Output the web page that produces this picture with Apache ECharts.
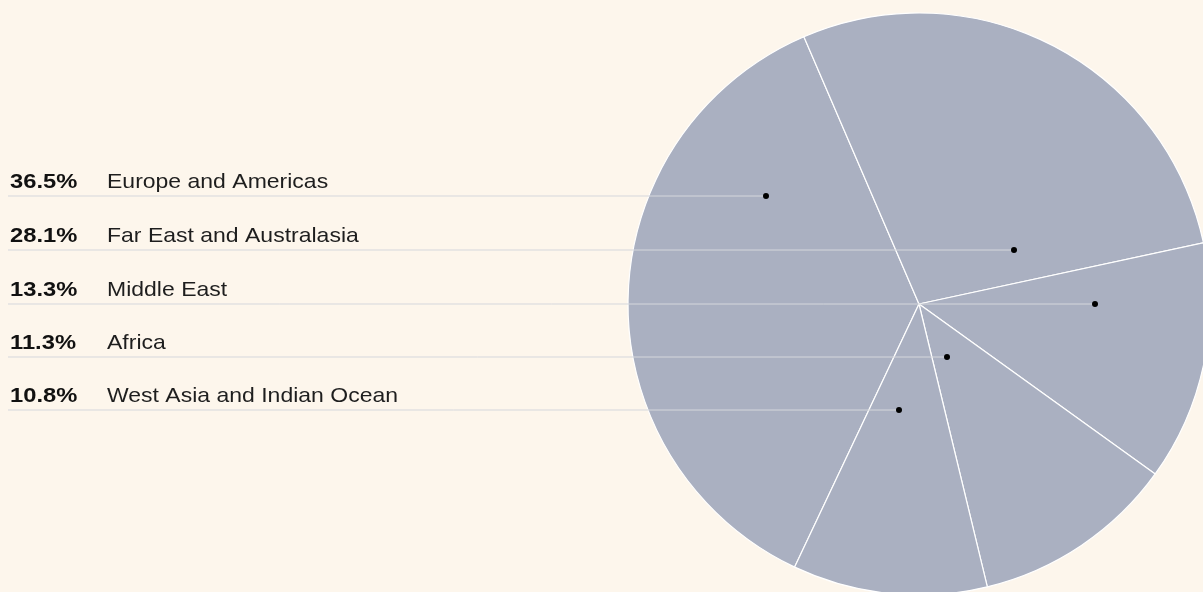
<!DOCTYPE html>
<html>
<head>
<meta charset="utf-8">
<script src="https://cdn.jsdelivr.net/npm/echarts@6/dist/echarts.min.js"></script>
<style>
  html, body { margin: 0; padding: 0; background: #fdf6ec; }
  #chart { width: 1203px; height: 592px; }
</style>
</head>
<body>
<div id="chart"></div>
<script>
// Share of total by region (%)
const regions = ['Europe and Americas', 'Far East and Australasia', 'Middle East', 'Africa', 'West Asia and Indian Ocean'];
const shares = [36.5, 28.1, 13.3, 11.3, 10.8];
const shareLabels = ['36.5%', '28.1%', '13.3%', '11.3%', '10.8%'];

// Pie geometry and leader layout (pixels)
const CX = 919, CY = 304, R = 291;
const rowY = [196, 250, 304, 357, 410];
const dotX = [766, 1014, 1095, 947, 899];

const chart = echarts.init(document.getElementById('chart'), null, { renderer: 'canvas' });

const graphics = [];
regions.forEach((name, i) => {
  const y = rowY[i];
  graphics.push({
    type: 'line', z: 100, silent: true,
    shape: { x1: 8, y1: y, x2: dotX[i], y2: y },
    style: { stroke: '#d5d7dc', lineWidth: 1 }
  });
  graphics.push({
    type: 'circle', z: 101, silent: true,
    shape: { cx: dotX[i], cy: y, r: 3 },
    style: { fill: '#000' }
  });
  graphics.push({
    type: 'text', z: 102, silent: true,
    x: 10, y: y - 14, scaleX: 1.13,
    style: { text: shareLabels[i], font: 'bold 21px "Liberation Sans", Arial, sans-serif',
             fill: '#111', textAlign: 'left', textVerticalAlign: 'middle' }
  });
  graphics.push({
    type: 'text', z: 102, silent: true,
    x: 107, y: y - 14, scaleX: 1.095,
    style: { text: name, font: '21px "Liberation Sans", Arial, sans-serif',
             fill: '#1e1e1e', textAlign: 'left', textVerticalAlign: 'middle' }
  });
});

chart.setOption({
  backgroundColor: '#fdf6ec',
  animation: false,
  series: [{
    type: 'pie',
    center: [CX, CY],
    radius: [0, R],
    startAngle: 244.7,
    clockwise: true,
    silent: true,
    label: { show: false },
    labelLine: { show: false },
    itemStyle: { color: '#aab0c1', borderColor: '#ffffff', borderWidth: 1.2 },
    data: regions.map((name, i) => ({ name, value: shares[i] }))
  }],
  graphic: graphics
});
</script>
</body>
</html>
